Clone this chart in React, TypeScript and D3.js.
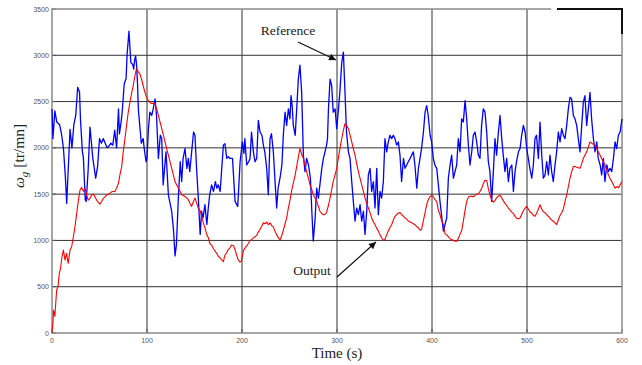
import React, {useEffect, useRef} from 'react';
import * as d3 from 'd3';

// Reference speed (blue)
const refTime = [
    0, 1, 3, 5, 8, 10, 12, 14, 15.5, 17, 19, 21, 23, 25, 27, 29, 30, 32, 33, 35, 36, 38, 40, 43, 46, 48, 50, 52, 54,
    56, 58, 60, 62, 64, 66, 68, 70, 71, 73, 74, 76, 78, 79, 81, 83, 85, 86, 87, 88, 89, 90, 91, 93, 94, 96, 97, 99,
    100, 101.5, 103, 105, 106.5, 108.5, 110, 112, 114, 115.5, 117, 120, 122.5, 126, 128, 129.5, 131, 133, 135, 136.5,
    138, 140, 142, 143.5, 145, 147, 149, 150.5, 152, 154, 156, 157.5, 159, 161, 163, 164.5, 166, 168, 170, 172, 173.5,
    175, 177, 180.4, 182, 184, 185.7, 187.5, 190, 192.7, 195.5, 198, 200.4, 202, 203, 205, 207, 208.5, 210, 212,
    213.7, 215.5, 217.2, 219, 221, 222.5, 224, 226, 227.7, 229.5, 231, 233, 234.8, 236.5, 238, 240, 242, 243.5, 245.3,
    247, 248.8, 250.5, 251.6, 252.8, 254, 256, 257.6, 259.3, 261, 262.8, 264.6, 266.3, 268, 270, 272, 273.5, 275, 277,
    278.6, 280.4, 282, 284, 285.7, 287.4, 289, 290, 291, 292.7, 294.4, 296, 298, 299.7, 301, 303, 305, 306.7, 308.4,
    310, 312, 313.7, 315.5, 317.2, 319, 320.7, 322.5, 324.3, 326, 327.8, 329.5, 331.3, 333, 334.8, 336.5, 338.3, 340,
    341.8, 343.5, 345.3, 347, 348.8, 350.5, 352.3, 354, 355.8, 357.6, 359.3, 361, 362.8, 364.6, 366.3, 368, 370,
    371.6, 373.4, 375, 377, 378.6, 380.4, 382, 384, 385.7, 387.4, 389, 391, 392.7, 394.4, 396, 398, 399.6, 401.4, 403,
    405, 406.7, 408.4, 410, 412, 413.7, 415.5, 417.2, 419, 420.7, 422.5, 424.2, 426, 427.7, 429.5, 431.2, 433, 434.8,
    436.5, 438.3, 440, 441.8, 443.5, 445.3, 447, 448.8, 450.5, 452.2, 454, 455.8, 457.6, 459.3, 461, 462.8, 464.6,
    466.3, 468, 469.9, 471.6, 473.4, 475, 476.8, 478.6, 480.4, 482, 484, 485.7, 487.4, 489, 491, 492.7, 494.4, 496.2,
    498, 499.7, 501.4, 503, 505, 506.7, 508.4, 510, 512, 513.7, 515.5, 517.2, 519, 520.7, 522.5, 524.2, 526, 527.7,
    529.5, 531.2, 533, 534.8, 536.5, 538.3, 540, 541.8, 543.5, 545.3, 547, 548.8, 550.5, 552.3, 554, 555.8, 557.6,
    559.3, 561, 562.8, 564.6, 566.3, 568, 569.9, 571.6, 573.4, 575, 577, 578.6, 580.4, 582, 584, 585.7, 587.4, 589.2,
    591, 592.7, 594.4, 596.2, 598, 600,
];
const refSpeed = [
    2420, 2100, 2400, 2280, 2250, 2150, 2000, 1700, 1400, 1750, 2200, 2000, 2250, 2350, 2654, 2600, 2300, 1957, 1900,
    1440, 1420, 1750, 2225, 1886, 1672, 1800, 2100, 2050, 2100, 2050, 2000, 2020, 2050, 2029, 2190, 2000, 2420, 2150,
    2300, 2400, 2690, 2750, 3000, 3260, 2921, 2900, 2850, 2950, 2993, 2900, 2700, 2400, 2172, 2050, 2100, 2000, 1850,
    1886, 2200, 2386, 2350, 2420, 2529, 2350, 1886, 2136, 2100, 1600, 1957, 1493, 1315, 1100, 833, 958, 1458, 1850,
    1636, 1886, 1993, 1779, 1886, 1743, 1957, 2171, 2136, 1815, 1458, 1065, 1315, 1243, 1386, 1172, 1350, 1493, 1600,
    1529, 1636, 1565, 1600, 1529, 2029, 2046, 1886, 1904, 1886, 1886, 1422, 1368, 1850, 2064, 1940, 2100, 1815, 1850,
    1886, 2171, 1957, 1850, 1886, 2297, 2171, 2136, 2029, 1957, 1779, 1493, 2100, 2154, 1957, 1636, 1350, 1565, 1672,
    1815, 2136, 2386, 2243, 2421, 2314, 2564, 2457, 2243, 2136, 2421, 2743, 2893, 2600, 1922, 1743, 1886, 1815, 1672,
    1315, 993, 1243, 1565, 1457, 1600, 1779, 1886, 1957, 2029, 2100, 2421, 2743, 2671, 2386, 2421, 2207, 2350, 2600,
    2921, 3035, 2600, 2171, 1957, 1886, 1636, 1422, 1208, 1350, 1279, 1386, 1208, 1315, 1065, 1315, 1708, 1779, 1529,
    1636, 1350, 1779, 1279, 1529, 1458, 1636, 2100, 1957, 2064, 2136, 2100, 2136, 2100, 2029, 2064, 1922, 1636, 1886,
    1779, 1815, 1850, 1886, 1922, 1957, 1815, 1565, 1779, 1886, 1993, 2171, 2386, 2457, 2350, 2136, 2064, 1886, 1815,
    1779, 1600, 1422, 1279, 1101, 1172, 1243, 1672, 1815, 1922, 1672, 1743, 1815, 2100, 1957, 2314, 2279, 2511, 2314,
    2029, 1815, 1957, 2136, 2171, 2064, 1922, 1886, 2243, 2421, 2386, 2171, 1850, 1743, 1422, 1743, 2100, 1922, 2171,
    2350, 2100, 1922, 1743, 1886, 1636, 1779, 1815, 1529, 1743, 1850, 1957, 1993, 2136, 2243, 2171, 1993, 1886, 1779,
    1672, 1815, 2100, 2136, 1886, 2279, 1922, 1672, 1708, 1850, 1708, 1922, 1743, 1636, 1815, 1957, 2171, 2064, 2207,
    2136, 2100, 2243, 2421, 2546, 2529, 2350, 2314, 2243, 2100, 1957, 2243, 2493, 2564, 2243, 2421, 2600, 2314, 2100,
    1957, 2064, 1886, 1815, 1708, 1886, 1636, 1815, 1743, 1779, 1743, 1886, 2064, 1993, 2136, 2171, 2314,
];

// Output speed (red)
const outTime = [
    0, 1, 1.6, 3, 4.9, 6.3, 7.7, 9, 10.5, 12, 13.7, 15.3, 17, 19, 20.7, 22.5, 24.2, 26, 27.8, 29.5, 31.2, 33, 34.7,
    36.5, 38.2, 40, 41.75, 43.5, 45.3, 47, 48.8, 50.5, 52.3, 54, 55.8, 57.5, 61, 62.8, 64.5, 66.3, 68, 70, 71.5, 73.4,
    75, 76.8, 78.5, 80.2, 82, 83.8, 85.5, 87.3, 89, 90.8, 92.6, 94.3, 96, 97.8, 99.5, 101.4, 103, 104.8, 106.5,
    108.4, 110.2, 112, 113.7, 115.5, 117.2, 119, 120.7, 122.5, 124.2, 126, 127.7, 129.5, 131.3, 133, 134.8, 136.5,
    138.3, 140, 141.8, 143.5, 145.3, 147, 148.8, 150.5, 152.3, 154, 155.8, 157.5, 159.3, 161, 163, 164.6, 166.3, 168,
    170, 171.6, 173.4, 175, 177, 178.6, 180.4, 182, 184, 185.7, 187.4, 189, 191, 192.7, 194.4, 196, 198, 199.5,
    201.5, 203.3, 205, 206.8, 208.5, 210.3, 212, 213.7, 215.5, 217.2, 219, 220.7, 222.5, 224.2, 226, 227.7, 229.5,
    231.3, 233, 234.8, 236.5, 238.3, 240, 241.8, 243.5, 245.3, 247, 248.8, 250.6, 252.3, 254, 255.8, 257.6, 259.3,
    261, 262.8, 264.6, 266.3, 268, 270, 271.6, 273.4, 275, 276.8, 278.6, 280.4, 282, 284, 285.7, 287.4, 289, 291,
    292.7, 294.4, 296, 298, 299.7, 301.4, 303.2, 305, 306.7, 308.4, 310.2, 312, 313.7, 315.5, 317.2, 319, 320.7,
    322.5, 324.3, 326, 327.8, 329.5, 331.3, 333, 334.8, 336.5, 338.3, 340, 341.8, 343.5, 345.3, 347, 348.8, 350.5,
    352.3, 354, 355.8, 357.6, 359.3, 361, 362.8, 364.6, 366.3, 368, 370, 371.6, 373.4, 375, 377, 378.6, 380.4, 382,
    384, 385.7, 387.4, 389, 391, 392.7, 394.6, 396.2, 398, 399.8, 401.5, 403.2, 405, 406.7, 408.4, 410, 412, 413.7,
    415.5, 417.2, 419, 420.7, 422.5, 424, 426, 427.7, 429.5, 431.3, 433, 434.8, 436.5, 438.3, 440, 441.8, 443.5,
    445.3, 447, 448.8, 450.5, 452.2, 454, 455.8, 457.6, 459.3, 461, 462.8, 464.6, 466.3, 468, 469.9, 471.6, 473.4,
    475, 476.8, 478.6, 480.4, 482, 483.9, 485.7, 487.4, 489, 491, 492.7, 494.4, 496.2, 498, 499.7, 501.4, 503, 505,
    506.7, 508.4, 510, 512, 513.7, 515.5, 517.2, 519, 520.7, 522.5, 524.2, 526, 527.7, 529.5, 531.2, 533, 534.8,
    536.5, 538.3, 540, 541.8, 543.5, 545.3, 547, 548.8, 550.5, 552.3, 554, 555.8, 557.6, 559.3, 561, 562.8, 564.6,
    566.3, 568, 569.9, 571.6, 573.4, 575, 577, 578.6, 580.4, 582, 584, 585.7, 587.4, 589.2, 591, 592.7, 594.4, 596.2,
    598, 600,
];
const outSpeed = [
    0, 104, 248, 180, 464, 500, 644, 700, 824, 896, 788, 860, 752, 896, 932, 1040, 1148, 1292, 1436, 1544, 1573, 1530,
    1562, 1490, 1436, 1455, 1490, 1500, 1470, 1436, 1410, 1393, 1420, 1454, 1470, 1490, 1508, 1525, 1529, 1530, 1565,
    1620, 1708, 1800, 1957, 2100, 2243, 2380, 2493, 2590, 2671, 2779, 2860, 2820, 2796, 2740, 2671, 2600, 2546, 2511,
    2490, 2480, 2480, 2475, 2420, 2350, 2280, 2207, 2140, 2064, 1990, 1922, 1850, 1779, 1710, 1636, 1600, 1565, 1530,
    1493, 1485, 1475, 1460, 1440, 1400, 1368, 1420, 1458, 1400, 1350, 1324, 1260, 1190, 1136, 1060, 1029, 964, 950,
    910, 886, 860, 830, 810, 790, 770, 840, 870, 904, 920, 950, 946, 900, 840, 790, 766, 780, 892, 920, 940, 970,
    1000, 1010, 1029, 1040, 1054, 1090, 1120, 1150, 1190, 1180, 1198, 1170, 1190, 1160, 1144, 1100, 1060, 1030, 1005,
    1050, 1110, 1180, 1240, 1350, 1440, 1540, 1620, 1700, 1800, 1900, 1993, 1930, 1886, 1810, 1743, 1670, 1600, 1550,
    1493, 1460, 1422, 1370, 1315, 1290, 1279, 1280, 1300, 1380, 1458, 1550, 1636, 1710, 1779, 1886, 2000, 2100, 2190,
    2261, 2240, 2207, 2140, 2064, 1990, 1922, 1830, 1743, 1670, 1600, 1530, 1458, 1400, 1350, 1300, 1243, 1200, 1172,
    1130, 1101, 1060, 1029, 1000, 1010, 1060, 1101, 1140, 1172, 1220, 1261, 1280, 1297, 1300, 1280, 1260, 1243, 1230,
    1210, 1200, 1190, 1180, 1170, 1150, 1136, 1110, 1118, 1216, 1300, 1396, 1440, 1475, 1486, 1470, 1440, 1420, 1324,
    1280, 1216, 1172, 1072, 1060, 1040, 1018, 1010, 1000, 993, 993, 1020, 1065, 1108, 1208, 1324, 1420, 1468, 1475,
    1480, 1470, 1486, 1500, 1504, 1529, 1560, 1612, 1650, 1648, 1560, 1493, 1440, 1414, 1430, 1460, 1480, 1486, 1460,
    1430, 1400, 1378, 1350, 1330, 1306, 1290, 1260, 1240, 1235, 1243, 1280, 1320, 1350, 1368, 1340, 1310, 1297, 1270,
    1261, 1290, 1340, 1386, 1340, 1310, 1300, 1279, 1260, 1240, 1220, 1208, 1190, 1172, 1220, 1270, 1300, 1340, 1420,
    1493, 1580, 1672, 1740, 1797, 1800, 1790, 1785, 1779, 1830, 1886, 1920, 1957, 2010, 2064, 2050, 2040, 2029, 1990,
    1957, 1920, 1886, 1850, 1815, 1760, 1708, 1670, 1636, 1600, 1565, 1580, 1570, 1600, 1636,
];

const xTicks = [0, 100, 200, 300, 400, 500, 600];
const yTicks = [0, 500, 1000, 1500, 2000, 2500, 3000, 3500];

const App = () => {
    const svgRef = useRef(null);

    useEffect(() => {
        const svg = d3.select(svgRef.current);
        svg.selectAll('*').remove();

        const width = 642;
        const height = 365;
        const margin = {top: 9, right: 20, bottom: 32, left: 52};
        const left = margin.left;
        const right = width - margin.right;
        const top = margin.top;
        const bottom = height - margin.bottom;

        const x = d3.scaleLinear().domain([0, 600]).range([left, right]);
        const y = d3.scaleLinear().domain([0, 3500]).range([bottom, top]);

        // grid
        const grid = svg.append('g').attr('stroke', '#333').attr('stroke-width', 1);
        grid.selectAll('line.v')
            .data(xTicks.slice(1, -1))
            .join('line')
            .attr('x1', (d) => x(d))
            .attr('x2', (d) => x(d))
            .attr('y1', top)
            .attr('y2', bottom);
        grid.selectAll('line.h')
            .data(yTicks.slice(1, -1))
            .join('line')
            .attr('x1', left)
            .attr('x2', right)
            .attr('y1', (d) => y(d))
            .attr('y2', (d) => y(d));

        // inner tick marks
        const ticks = svg.append('g').attr('stroke', '#555').attr('stroke-width', 1);
        ticks.selectAll('line.xt')
            .data(xTicks)
            .join('line')
            .attr('x1', (d) => x(d))
            .attr('x2', (d) => x(d))
            .attr('y1', bottom)
            .attr('y2', bottom - 4);
        ticks.selectAll('line.yt')
            .data(yTicks)
            .join('line')
            .attr('x1', left)
            .attr('x2', left + 4)
            .attr('y1', (d) => y(d))
            .attr('y2', (d) => y(d));

        // frame (with the odd break at top right)
        svg.append('path')
            .attr('d', `M${x(525.5)},${top}H${left}V${bottom}H${right}V${top + 25}`)
            .attr('fill', 'none')
            .attr('stroke', '#8a8a8a')
            .attr('stroke-width', 1.5);
        svg.append('path')
            .attr('d', `M${x(531.5)},${top}H${right}V${top + 25}`)
            .attr('fill', 'none')
            .attr('stroke', '#111')
            .attr('stroke-width', 2);

        // lines
        const refData = refTime.map((t, i) => [t, refSpeed[i]]);
        const outData = outTime.map((t, i) => [t, outSpeed[i]]);
        const line = d3
            .line()
            .x((d) => x(d[0]))
            .y((d) => y(d[1]));

        svg.append('path')
            .datum(refData)
            .attr('d', line)
            .attr('fill', 'none')
            .attr('stroke', '#0000ff')
            .attr('stroke-width', 1.3)
            .attr('stroke-linejoin', 'round');
        svg.append('path')
            .datum(outData)
            .attr('d', line)
            .attr('fill', 'none')
            .attr('stroke', '#ff0000')
            .attr('stroke-width', 1.1)
            .attr('stroke-linejoin', 'round');

        // tick labels
        svg.append('g')
            .selectAll('text')
            .data(xTicks)
            .join('text')
            .attr('x', (d) => x(d))
            .attr('y', bottom + 10)
            .attr('text-anchor', 'middle')
            .attr('font-family', 'Liberation Sans, Arial, sans-serif')
            .attr('font-size', 7)
            .attr('fill', '#555')
            .text((d) => d);
        svg.append('g')
            .selectAll('text')
            .data(yTicks)
            .join('text')
            .attr('x', left - 3)
            .attr('y', (d) => y(d) + 2.5)
            .attr('text-anchor', 'end')
            .attr('font-family', 'Liberation Sans, Arial, sans-serif')
            .attr('font-size', 7)
            .attr('fill', '#555')
            .text((d) => d);

        // axis titles
        svg.append('text')
            .attr('x', (left + right) / 2)
            .attr('y', 358)
            .attr('text-anchor', 'middle')
            .attr('font-family', 'Liberation Serif, Times New Roman, serif')
            .attr('font-size', 15)
            .attr('fill', '#222')
            .text('Time (s)');

        const yTitle = svg
            .append('text')
            .attr('transform', 'translate(24,156) rotate(-90)')
            .attr('text-anchor', 'middle')
            .attr('font-family', 'Liberation Serif, Times New Roman, serif')
            .attr('font-size', 15.5)
            .attr('fill', '#222');
        yTitle.append('tspan').attr('font-style', 'italic').text('ω');
        yTitle.append('tspan').attr('font-style', 'italic').attr('font-size', 11).attr('dy', 3.5).text('g');
        yTitle.append('tspan').attr('dy', -3.5).text(' [tr/mn]');

        // annotations
        const defs = svg.append('defs');
        defs.append('marker')
            .attr('id', 'head')
            .attr('viewBox', '0 0 10 10')
            .attr('refX', 10)
            .attr('refY', 5)
            .attr('markerWidth', 9)
            .attr('markerHeight', 7)
            .attr('markerUnits', 'userSpaceOnUse')
            .attr('orient', 'auto')
            .append('path')
            .attr('d', 'M0,0L10,5L0,10Z')
            .attr('fill', '#111');

        svg.append('text')
            .attr('x', 288)
            .attr('y', 35)
            .attr('text-anchor', 'middle')
            .attr('font-family', 'Liberation Serif, Times New Roman, serif')
            .attr('font-size', 13.5)
            .attr('fill', '#222')
            .text('Reference');
        svg.append('line')
            .attr('x1', 298)
            .attr('y1', 42)
            .attr('x2', 336)
            .attr('y2', 60)
            .attr('stroke', '#111')
            .attr('stroke-width', 1.2)
            .attr('marker-end', 'url(#head)');

        svg.append('text')
            .attr('x', 312)
            .attr('y', 275)
            .attr('text-anchor', 'middle')
            .attr('font-family', 'Liberation Serif, Times New Roman, serif')
            .attr('font-size', 13.5)
            .attr('fill', '#222')
            .text('Output');
        svg.append('line')
            .attr('x1', 337)
            .attr('y1', 277)
            .attr('x2', 376)
            .attr('y2', 242)
            .attr('stroke', '#111')
            .attr('stroke-width', 1.2)
            .attr('marker-end', 'url(#head)');
    }, []);

    return (
        <svg
            ref={svgRef}
            width={642}
            height={365}
            style={{position: 'absolute', left: 0, top: 0, background: '#fff'}}
        />
    );
};

export default App;
